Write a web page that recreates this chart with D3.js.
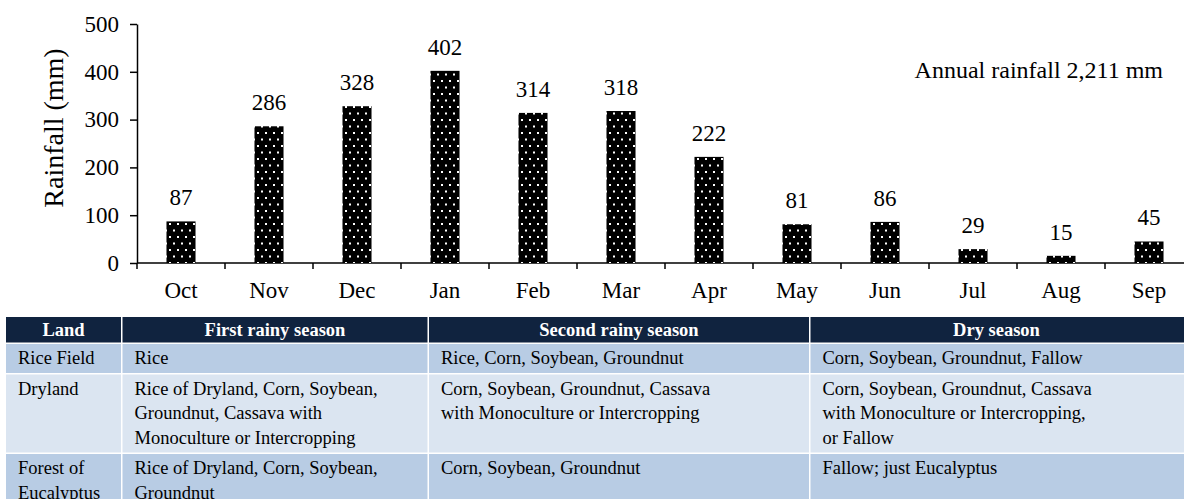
<!DOCTYPE html>
<html>
<head>
<meta charset="UTF-8">
<script src="https://cdn.jsdelivr.net/npm/d3@7"></script>
</head>
<body style="margin:0">
<script>
    // rainfall per month (mm)
    const months = ["Oct", "Nov", "Dec", "Jan", "Feb", "Mar", "Apr", "May", "Jun", "Jul", "Aug", "Sep"];
    const rainfall = [87, 286, 328, 402, 314, 318, 222, 81, 86, 29, 15, 45];
    const yTicks = [0, 100, 200, 300, 400, 500];
    const annualNote = "Annual rainfall 2,211 mm";

    // cropping pattern table
    const tableHeaders = ["Land", "First rainy season", "Second rainy season", "Dry season"];
    const landTypes = [["Rice Field"], ["Dryland"], ["Forest of", "Eucalyptus"]];
    const firstRainy = [
        ["Rice"],
        ["Rice of Dryland, Corn, Soybean,", "Groundnut, Cassava with", "Monoculture or Intercropping"],
        ["Rice of Dryland, Corn, Soybean,", "Groundnut"]
    ];
    const secondRainy = [
        ["Rice, Corn, Soybean, Groundnut"],
        ["Corn, Soybean, Groundnut, Cassava", "with Monoculture or Intercropping"],
        ["Corn, Soybean, Groundnut"]
    ];
    const drySeason = [
        ["Corn, Soybean, Groundnut, Fallow"],
        ["Corn, Soybean, Groundnut, Cassava", "with Monoculture or Intercropping,", "or Fallow"],
        ["Fallow; just Eucalyptus"]
    ];

    const width = 1184, height = 499;
    const FONT = "Liberation Serif";

    const svg = d3.select("body").append("svg")
        .attr("width", width)
        .attr("height", height);

    // dotted fill for bars
    const pat = svg.append("defs").append("pattern")
        .attr("id", "dots")
        .attr("patternUnits", "userSpaceOnUse")
        .attr("width", 8).attr("height", 13);
    pat.append("rect").attr("width", 8).attr("height", 13).attr("fill", "#000");
    pat.append("rect").attr("x", 1).attr("y", 2).attr("width", 2).attr("height", 2).attr("fill", "#fff");
    pat.append("rect").attr("x", 5).attr("y", 8.5).attr("width", 2).attr("height", 2).attr("fill", "#fff");

    const x = d3.scaleBand().domain(months).range([137, 1193]).padding(0);
    const y = d3.scaleLinear().domain([0, 500]).range([263, 24]);
    const barW = x.bandwidth() * 0.33;

    function styleAxis(g) {
        g.selectAll("path, line").attr("stroke", "#000").attr("stroke-width", 1.5);
        g.selectAll("text").attr("fill", "#000").attr("font-family", FONT).attr("font-size", 23);
    }

    // y axis
    svg.append("g")
        .attr("transform", "translate(137,0)")
        .call(d3.axisLeft(y).tickValues(yTicks).tickSize(7).tickSizeOuter(0).tickPadding(11))
        .call(styleAxis);

    // x axis: labels at centres, ticks on band edges
    const xAxis = svg.append("g")
        .attr("transform", `translate(0,${y(0)})`)
        .call(d3.axisBottom(x).tickSize(0).tickSizeOuter(0).tickPadding(19));
    xAxis.select(".domain").attr("d", `M137,0H${width}`);
    xAxis.selectAll(".edge")
        .data(months)
        .enter().append("line")
        .attr("class", "edge")
        .attr("x1", d => x(d)).attr("x2", d => x(d))
        .attr("y1", 0).attr("y2", 6);
    xAxis.call(styleAxis);

    svg.append("text")
        .attr("transform", "translate(63,128) rotate(-90)")
        .attr("text-anchor", "middle")
        .attr("font-family", FONT)
        .attr("font-size", 28)
        .text("Rainfall (mm)");

    svg.selectAll(".bar")
        .data(rainfall)
        .enter().append("rect")
        .attr("class", "bar")
        .attr("x", (d, i) => x(months[i]) + (x.bandwidth() - barW) / 2)
        .attr("width", barW)
        .attr("y", d => y(d))
        .attr("height", d => y(0) - y(d))
        .attr("fill", "url(#dots)");

    svg.selectAll(".val")
        .data(rainfall)
        .enter().append("text")
        .attr("class", "val")
        .attr("x", (d, i) => x(months[i]) + x.bandwidth() / 2)
        .attr("y", d => y(d) - 16)
        .attr("text-anchor", "middle")
        .attr("font-family", FONT)
        .attr("font-size", 23)
        .text(d => d);

    svg.append("text")
        .attr("x", 1163).attr("y", 78)
        .attr("text-anchor", "end")
        .attr("font-family", FONT)
        .attr("font-size", 24)
        .text(annualNote);

    // ---- table ----
    const colX = [6, 122.5, 429, 810.5, width];
    const padX = 12;
    const headTop = 317, headH = 25.5, gap = 1.5, lineH = 24.5;
    const columns = [landTypes, firstRainy, secondRainy, drySeason];
    const rowFill = ["#b8cce4", "#dbe5f1", "#b8cce4"];

    const table = svg.append("g");

    tableHeaders.forEach((h, c) => {
        table.append("rect")
            .attr("x", colX[c]).attr("y", headTop)
            .attr("width", colX[c + 1] - colX[c] - (c < 3 ? gap : 0))
            .attr("height", headH)
            .attr("fill", "#10233f");
        table.append("text")
            .attr("x", (colX[c] + colX[c + 1] - gap) / 2)
            .attr("y", headTop + 19)
            .attr("text-anchor", "middle")
            .attr("fill", "#fff")
            .attr("font-family", FONT)
            .attr("font-size", 18.5)
            .attr("font-weight", "bold")
            .text(h);
    });

    let rowTop = headTop + headH + gap;
    landTypes.forEach((land, r) => {
        const nLines = d3.max(columns, col => col[r].length);
        const rowH = r === landTypes.length - 1 ? 80 : 4.5 + lineH * nLines;
        columns.forEach((col, c) => {
            table.append("rect")
                .attr("x", colX[c]).attr("y", rowTop)
                .attr("width", colX[c + 1] - colX[c] - (c < 3 ? gap : 0))
                .attr("height", rowH)
                .attr("fill", rowFill[r]);
            table.append("g").selectAll("text")
                .data(col[r])
                .enter().append("text")
                .attr("x", colX[c] + padX)
                .attr("y", (d, i) => rowTop + 20 + i * lineH)
                .attr("fill", "#000")
                .attr("font-family", FONT)
                .attr("font-size", 18.5)
                .text(d => d);
        });
        rowTop += rowH + gap;
    });
</script>
</body>
</html>
